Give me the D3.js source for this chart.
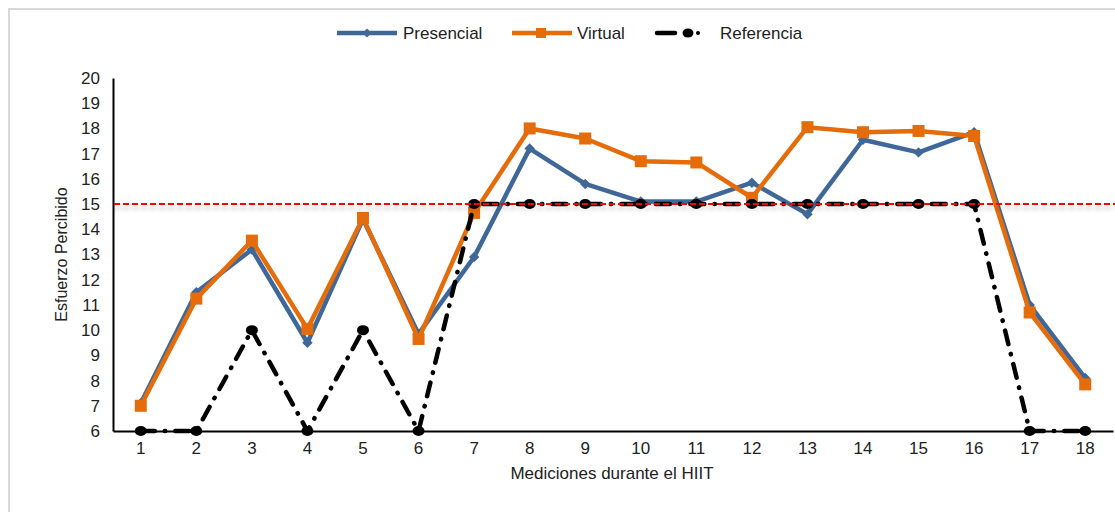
<!DOCTYPE html>
<html>
<head>
<meta charset="utf-8">
<script src="https://cdn.jsdelivr.net/npm/d3@7"></script>
<style>
  body { margin: 0; background: #fff; }
  svg { font-family: "Liberation Sans", Arial, sans-serif; }
</style>
</head>
<body>
<div class="chart"></div>
<script>
// data
var mediciones = ["1","2","3","4","5","6","7","8","9","10","11","12","13","14","15","16","17","18"];
var presencial = [7.1, 11.5, 13.2, 9.5, 14.4, 9.85, 12.9, 17.2, 15.8, 15.1, 15.1, 15.85, 14.6, 17.55, 17.05, 17.85, 11.0, 8.1];
var virtual    = [7.0, 11.25, 13.55, 10.05, 14.45, 9.65, 14.65, 18.0, 17.6, 16.7, 16.65, 15.25, 18.05, 17.85, 17.9, 17.7, 10.7, 7.85];
var referencia = [6, 6, 10, 6, 10, 6, 15, 15, 15, 15, 15, 15, 15, 15, 15, 15, 6, 6];
var yTicks = [6,7,8,9,10,11,12,13,14,15,16,17,18,19,20];
var umbral = 15;

var width = 1115, height = 512;
var plotL = 113, plotR = 1113, plotT = 78, plotB = 431;
var fs = 17;

var svg = d3.select(".chart").append("svg")
    .attr("width", width)
    .attr("height", height);

var defs = svg.append("defs");
var f = defs.append("filter").attr("id", "sombra")
    .attr("filterUnits", "userSpaceOnUse")
    .attr("x", 0).attr("y", 190).attr("width", width).attr("height", 40);
f.append("feGaussianBlur").attr("in", "SourceAlpha").attr("stdDeviation", 2.5);
f.append("feOffset").attr("dy", 4).attr("result", "b");
f.append("feComponentTransfer").append("feFuncA").attr("type", "linear").attr("slope", 0.3);
var m = f.append("feMerge");
m.append("feMergeNode");
m.append("feMergeNode").attr("in", "SourceGraphic");

// outer frame
svg.append("rect")
    .attr("x", 9).attr("y", 9)
    .attr("width", 1200).attr("height", 600)
    .attr("fill", "none").attr("stroke", "#d9d9d9").attr("stroke-width", 2);

var x = d3.scaleBand().domain(mediciones).range([plotL, plotR]).padding(0);
var y = d3.scaleLinear().domain([6, 20]).range([plotB, plotT]);
var cx = function(d, i) { return x(mediciones[i]) + x.bandwidth() / 2; };

// axes
var yAxis = svg.append("g")
    .attr("transform", "translate(" + plotL + ",0)")
    .call(d3.axisLeft(y).tickValues(yTicks).tickSize(0).tickPadding(13));
yAxis.select(".domain").attr("stroke", "#000").attr("stroke-width", 2);
yAxis.selectAll("text").attr("font-size", fs).attr("fill", "#222").attr("font-family", "Liberation Sans, Arial");

var xAxis = svg.append("g")
    .attr("transform", "translate(0," + plotB + ")")
    .call(d3.axisBottom(x).tickSize(0).tickPadding(11));
xAxis.select(".domain").attr("stroke", "#000").attr("stroke-width", 2);
xAxis.selectAll("text").attr("font-size", fs).attr("fill", "#222").attr("font-family", "Liberation Sans, Arial");

svg.append("text")
    .attr("x", 612).attr("y", 479)
    .attr("text-anchor", "middle").attr("font-size", fs).attr("fill", "#222")
    .text("Mediciones durante el HIIT");

svg.append("text")
    .attr("transform", "translate(67," + ((plotT + plotB) / 2) + ") rotate(-90)")
    .attr("text-anchor", "middle").attr("font-size", 16).attr("fill", "#222")
    .text("Esfuerzo Percibido");

var line = d3.line().x(cx).y(function(d) { return y(d); });

var azul = "#3f6898", naranja = "#e46c0a";

// Presencial
svg.append("path").datum(presencial)
    .attr("d", line).attr("fill", "none")
    .attr("stroke", azul).attr("stroke-width", 4.5).attr("stroke-linejoin", "round");
svg.selectAll(".pres").data(presencial).enter().append("path")
    .attr("class", "pres")
    .attr("d", d3.symbol(d3.symbolDiamond2, 70))
    .attr("transform", function(d, i) { return "translate(" + cx(d, i) + "," + y(d) + ")"; })
    .attr("fill", azul);

// Virtual
svg.append("path").datum(virtual)
    .attr("d", line).attr("fill", "none")
    .attr("stroke", naranja).attr("stroke-width", 4.5).attr("stroke-linejoin", "round");
svg.selectAll(".virt").data(virtual).enter().append("rect")
    .attr("class", "virt")
    .attr("x", function(d, i) { return cx(d, i) - 6; })
    .attr("y", function(d) { return y(d) - 6; })
    .attr("width", 12).attr("height", 12)
    .attr("fill", naranja);

// Referencia
svg.append("path").datum(referencia)
    .attr("d", line).attr("fill", "none")
    .attr("stroke", "#000").attr("stroke-width", 4.5)
    .attr("stroke-linecap", "round")
    .attr("stroke-dasharray", "14,10,0.5,10");
svg.selectAll(".ref").data(referencia).enter().append("ellipse")
    .attr("class", "ref")
    .attr("cx", cx).attr("cy", function(d) { return y(d); })
    .attr("rx", 6).attr("ry", 5)
    .attr("fill", "#000");

// threshold line
svg.append("line")
    .attr("x1", plotL + 1).attr("x2", width)
    .attr("y1", y(umbral)).attr("y2", y(umbral))
    .attr("stroke", "#ff0000").attr("stroke-width", 2)
    .attr("stroke-dasharray", "6,3")
    .attr("filter", "url(#sombra)");

// legend
var lg = svg.append("g").attr("font-size", fs).attr("fill", "#222");
lg.append("line").attr("x1", 337).attr("x2", 397).attr("y1", 33).attr("y2", 33)
    .attr("stroke", azul).attr("stroke-width", 4.5);
lg.append("path").attr("d", d3.symbol(d3.symbolDiamond2, 50))
    .attr("transform", "translate(367,33)").attr("fill", azul);
lg.append("text").attr("x", 403).attr("y", 39).text("Presencial");

lg.append("line").attr("x1", 512).attr("x2", 572).attr("y1", 33).attr("y2", 33)
    .attr("stroke", naranja).attr("stroke-width", 4.5);
lg.append("rect").attr("x", 536).attr("y", 28).attr("width", 10).attr("height", 10).attr("fill", naranja);
lg.append("text").attr("x", 577).attr("y", 39).text("Virtual");

lg.append("line").attr("x1", 657).attr("x2", 675).attr("y1", 33).attr("y2", 33)
    .attr("stroke", "#000").attr("stroke-width", 4.5).attr("stroke-linecap", "round");
lg.append("ellipse").attr("cx", 688).attr("cy", 33).attr("rx", 5.5).attr("ry", 4.5).attr("fill", "#000");
lg.append("circle").attr("cx", 698).attr("cy", 33).attr("r", 2).attr("fill", "#000");
lg.append("text").attr("x", 720).attr("y", 39).text("Referencia");
</script>
</body>
</html>
